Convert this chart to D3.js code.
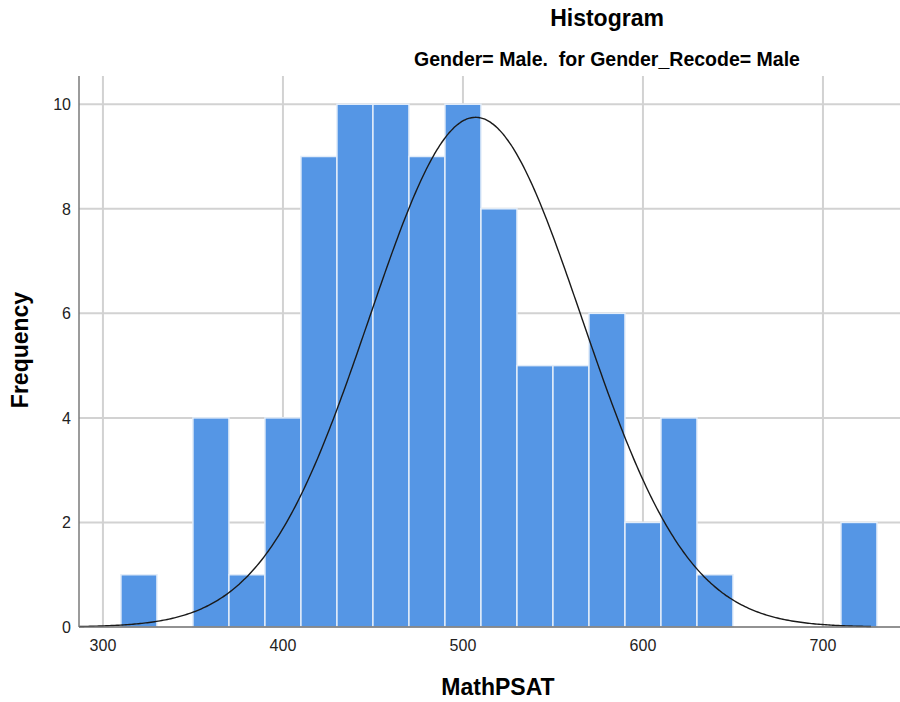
<!DOCTYPE html>
<html>
<head>
<meta charset="utf-8">
<script src="https://cdn.jsdelivr.net/npm/d3@7"></script>
<style>
  body { margin: 0; background: #fff; }
  text { font-family: "Liberation Sans", Arial, sans-serif; }
</style>
</head>
<body>
<div id="chart"></div>
<script>
// bins of MathPSAT (width 20) and counts
const binStarts = [310, 330, 350, 370, 390, 410, 430, 450, 470, 490, 510, 530, 550, 570, 590, 610, 630, 650, 670, 690, 710];
const counts    = [1,   0,   4,   1,   4,   9,   10,  10,  9,   10,  8,   5,   5,   6,   2,   4,   1,   0,   0,   0,   2];
const binWidth = 20;

const xTicks = [300, 400, 500, 600, 700];
const yTicks = [0, 2, 4, 6, 8, 10];

// normal curve
const curveMean = 507;
const curveSd = 59;
const curvePeak = 9.75;
const curveEnd = 727;

const width = 900, height = 702;
const plotLeft = 79, plotRight = 900, plotTop = 76, plotBottom = 627;

const svg = d3.select("#chart").append("svg")
    .attr("width", width)
    .attr("height", height);

const x = d3.scaleLinear().domain([286.7, 742.8]).range([plotLeft, plotRight]);
const y = d3.scaleLinear().domain([0, 10.54]).range([plotBottom, plotTop]);

// grid
svg.append("g").selectAll("line")
    .data(yTicks.slice(1))
    .enter().append("line")
    .attr("x1", plotLeft).attr("x2", plotRight)
    .attr("y1", d => y(d)).attr("y2", d => y(d))
    .attr("stroke", "#d2d2d2").attr("stroke-width", 2);

svg.append("g").selectAll("line")
    .data(xTicks)
    .enter().append("line")
    .attr("x1", d => x(d)).attr("x2", d => x(d))
    .attr("y1", plotTop).attr("y2", plotBottom)
    .attr("stroke", "#d2d2d2").attr("stroke-width", 2);

// bars
const bins = binStarts.map((s, i) => ({start: s, count: counts[i]})).filter(d => d.count > 0);
svg.append("g").selectAll("rect")
    .data(bins)
    .enter().append("rect")
    .attr("x", d => x(d.start))
    .attr("y", d => y(d.count))
    .attr("width", d => x(d.start + binWidth) - x(d.start))
    .attr("height", d => y(0) - y(d.count))
    .attr("fill", "#5596e5")
    .attr("stroke", "#e3edf9")
    .attr("stroke-width", 1.5);

// normal curve
const curveX = d3.range(286.7, curveEnd + 0.5, 1);
const line = d3.line()
    .x(d => x(d))
    .y(d => y(curvePeak * Math.exp(-0.5 * Math.pow((d - curveMean) / curveSd, 2))))
    .curve(d3.curveBasis);
svg.append("path")
    .datum(curveX)
    .attr("d", line)
    .attr("fill", "none")
    .attr("stroke", "#1a1a1a")
    .attr("stroke-width", 1.4);

// axes lines
svg.append("line")
    .attr("x1", plotLeft).attr("x2", plotLeft).attr("y1", plotTop).attr("y2", plotBottom)
    .attr("stroke", "#7a7a7a").attr("stroke-width", 1.5);
svg.append("line")
    .attr("x1", plotLeft).attr("x2", plotRight).attr("y1", plotBottom).attr("y2", plotBottom)
    .attr("stroke", "#6e6e6e").attr("stroke-width", 1.5);

// tick labels
svg.append("g").selectAll("text")
    .data(yTicks)
    .enter().append("text")
    .attr("x", 71)
    .attr("y", d => y(d) + 6)
    .attr("text-anchor", "end")
    .attr("font-size", "16px")
    .attr("fill", "#222")
    .text(d => d);

svg.append("g").selectAll("text")
    .data(xTicks)
    .enter().append("text")
    .attr("x", d => x(d))
    .attr("y", 651)
    .attr("text-anchor", "middle")
    .attr("font-size", "16px")
    .attr("fill", "#222")
    .text(d => d);

// titles
svg.append("text")
    .attr("x", 607).attr("y", 26)
    .attr("text-anchor", "middle")
    .attr("font-size", "23px").attr("font-weight", "bold")
    .text("Histogram");

svg.append("text")
    .attr("x", 607).attr("y", 66)
    .attr("text-anchor", "middle")
    .attr("font-size", "19.5px").attr("font-weight", "bold")
    .style("white-space", "pre")
    .text("Gender= Male.  for Gender_Recode= Male");

svg.append("text")
    .attr("x", 498).attr("y", 695)
    .attr("text-anchor", "middle")
    .attr("font-size", "23px").attr("font-weight", "bold")
    .text("MathPSAT");

svg.append("text")
    .attr("transform", "translate(28,350) rotate(-90)")
    .attr("text-anchor", "middle")
    .attr("font-size", "23px").attr("font-weight", "bold")
    .text("Frequency");
</script>
</body>
</html>
